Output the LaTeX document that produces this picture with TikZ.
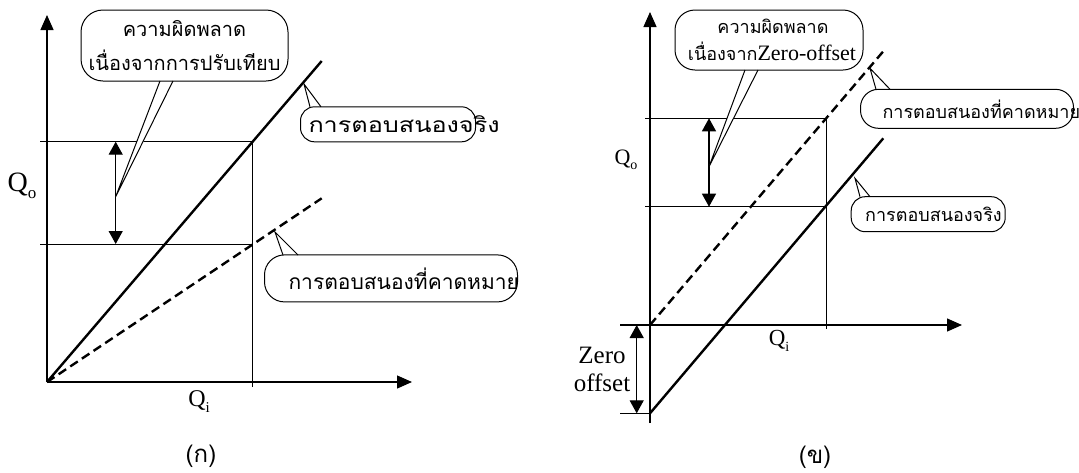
\documentclass[tikz,border=0pt]{standalone}
\usepackage{fontspec}
\setmainfont{Liberation Serif}
\newfontfamily\thai[Script=Thai]{Loma}
\usetikzlibrary{arrows.meta}
\tikzset{
  axis/.style={line width=1.3pt,-{Triangle[length=15pt,width=13pt]}},
  guide/.style={line width=1pt},
  resp/.style={line width=2.4pt},
  expresp/.style={line width=2.4pt,dash pattern=on 9pt off 5pt},
  dimarrow/.style={line width=1.3pt,{Triangle[length=13pt,width=14pt]}-{Triangle[length=13pt,width=14pt]}},
  callbox/.style={draw,line width=1pt,fill=white,rounded corners=#1,inner sep=0pt},
  ptr/.style={line width=1pt,line join=miter},
  thaitext/.style={font=\thai\fontsize{#1}{#1}\selectfont,inner sep=0pt},
  lbl/.style={font=\fontsize{#1}{#1}\selectfont,inner sep=0pt},
}
\begin{document}
\begin{tikzpicture}[x=1pt,y=-1pt]
\useasboundingbox (0,0) rectangle (1079,472);
% ---------------- left diagram (ก) ----------------
\coordinate (O1) at (47,382);
\coordinate (Y1) at (47,15);
\coordinate (X1) at (412,382);
\coordinate (H1a) at (40,141.7);
\coordinate (H1b) at (252,141.7);
\coordinate (H2a) at (40,244);
\coordinate (H2b) at (252,244);
\coordinate (V1b) at (252,387);
\coordinate (S1) at (321.7,61);
\coordinate (D1) at (321.7,198.3);
\coordinate (A1t) at (115.7,141.7);
\coordinate (A1b) at (115.7,244);
\draw[guide] (H1a) -- (H1b) -- (V1b);
\draw[guide] (H2a) -- (H2b);
\draw[axis] (O1) -- (Y1);
\draw[axis] (O1) -- (X1);
\draw[resp] (O1) -- (S1);
\draw[expresp] (O1) -- (D1);
\draw[dimarrow] (A1t) -- (A1b);
\node[lbl=28] (qo1) at (22,186) {Q\raisebox{-0.25em}{\fontsize{17}{17}\selectfont o}};
\node[lbl=24] (qi1) at (199,402) {Q\raisebox{-0.25em}{\fontsize{15}{15}\selectfont i}};
\node[thaitext=24] (capa) at (201,456) {(ก)};
% callout: calibration error
\node[callbox=22pt,minimum width=207pt,minimum height=71pt,align=center,
      font=\thai\fontsize{20}{34}\selectfont] (c1) at (184.5,45.5)
      {ความผิดพลาด\\เนื่องจากการปรับเทียบ};
\coordinate (p1a) at (160,81);
\coordinate (p1b) at (173,81);
\coordinate (p1t) at (115.7,196.7);
\fill[white] ([yshift=-1.5pt]p1a) -- (p1t) -- ([yshift=-1.5pt]p1b) -- cycle;
\draw[ptr] (p1a) -- (p1t) -- (p1b);
% callout: actual response (left)
\node[callbox=14pt,minimum height=35pt,anchor=west,font=\thai\fontsize{21}{21}\selectfont] (c2) at (300,124.3)
      {\makebox[175pt][l]{\hspace{8pt}\scalebox{1.2}[1]{การตอบสนองจริง}}};
\coordinate (p2a) at (310,106.8);
\coordinate (p2b) at (321,106.8);
\coordinate (p2t) at (304,84);
\fill[white] ([yshift=1.5pt]p2a) -- (p2t) -- ([yshift=1.5pt]p2b) -- cycle;
\draw[ptr] (p2a) -- (p2t) -- (p2b);
% callout: expected response (left)
\node[callbox=20pt,minimum height=47pt,anchor=west,font=\thai\fontsize{21}{21}\selectfont] (c3) at (264,278.4)
      {\makebox[253pt][l]{\hspace{24pt}การตอบสนองที่คาดหมาย}};
\coordinate (p3a) at (283,255);
\coordinate (p3b) at (298,255);
\coordinate (p3t) at (275,232);
\fill[white] ([yshift=1.5pt]p3a) -- (p3t) -- ([yshift=1.5pt]p3b) -- cycle;
\draw[ptr] (p3a) -- (p3t) -- (p3b);
% ---------------- right diagram (ข) ----------------
\coordinate (O2) at (650,325);
\coordinate (Y2a) at (650,423);
\coordinate (Y2) at (650,12);
\coordinate (X2a) at (620,325);
\coordinate (X2) at (962,325);
\coordinate (G1a) at (645,118.3);
\coordinate (G1b) at (826,118.3);
\coordinate (G2a) at (645,206.7);
\coordinate (G2b) at (826,206.7);
\coordinate (V2b) at (826,329);
\coordinate (Ta) at (620,413.3);
\coordinate (Tb) at (650,413.3);
\coordinate (S2) at (883.3,138.3);
\coordinate (D2) at (885,49.3);
\coordinate (A2t) at (709,118.3);
\coordinate (A2b) at (709,206.7);
\coordinate (Z2t) at (636.7,325);
\coordinate (Z2b) at (636.7,413.3);
\draw[guide] (G1a) -- (G1b) -- (V2b);
\draw[guide] (G2a) -- (G2b);
\draw[guide] (Ta) -- (Tb);
\draw[axis] (Y2a) -- (Y2);
\draw[axis] (X2a) -- (X2);
\draw[resp] (Tb) -- (S2);
\draw[expresp] (O2) -- (D2);
\draw[dimarrow] (A2t) -- (A2b);
\draw[dimarrow] (Z2t) -- (Z2b);
\node[lbl=22] (qo2) at (626,160) {Q\raisebox{-0.25em}{\fontsize{14}{14}\selectfont o}};
\node[lbl=23] (qi2) at (779,341) {Q\raisebox{-0.25em}{\fontsize{14}{14}\selectfont i}};
\node[lbl=25,align=center] (zo) at (602,369) {Zero\\[3pt]offset};
\node[thaitext=24] (capb) at (815,457) {(ข)};
% callout: zero offset error
\node[callbox=20pt,minimum width=188pt,minimum height=60pt,align=center,
      font=\thai\fontsize{18}{27}\selectfont] (c4) at (769,40)
      {\hspace{8pt}ความผิดพลาด\\\hspace{6pt}เนื่องจาก{\rmfamily\fontsize{22}{22}\selectfont Zero-offset}};
\coordinate (p4a) at (745,70);
\coordinate (p4b) at (758,70);
\coordinate (p4t) at (709,166.7);
\fill[white] ([yshift=-1.5pt]p4a) -- (p4t) -- ([yshift=-1.5pt]p4b) -- cycle;
\draw[ptr] (p4a) -- (p4t) -- (p4b);
% callout: expected response (right)
\node[callbox=18pt,minimum height=39pt,anchor=west,font=\thai\fontsize{18}{18}\selectfont] (c5) at (860,108.8)
      {\makebox[213pt][l]{\hspace{22pt}การตอบสนองที่คาดหมาย}};
\coordinate (p5a) at (876,89.3);
\coordinate (p5b) at (890,89.3);
\coordinate (p5t) at (870,68.3);
\fill[white] ([yshift=1.5pt]p5a) -- (p5t) -- ([yshift=1.5pt]p5b) -- cycle;
\draw[ptr] (p5a) -- (p5t) -- (p5b);
% callout: actual response (right)
\node[callbox=14pt,minimum height=35pt,anchor=west,font=\thai\fontsize{18}{18}\selectfont] (c6) at (850.7,214.2)
      {\makebox[154pt][l]{\hspace{14pt}การตอบสนองจริง}};
\coordinate (p6a) at (860,196.7);
\coordinate (p6b) at (870,196.7);
\coordinate (p6t) at (855,178.3);
\fill[white] ([yshift=1.5pt]p6a) -- (p6t) -- ([yshift=1.5pt]p6b) -- cycle;
\draw[ptr] (p6a) -- (p6t) -- (p6b);
\end{tikzpicture}
\end{document}
